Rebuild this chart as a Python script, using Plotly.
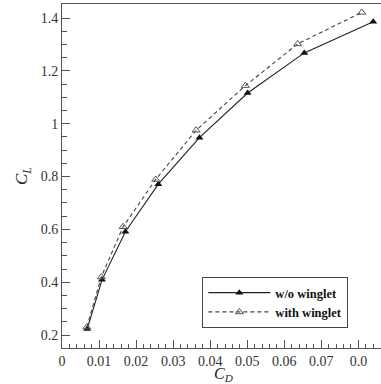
import plotly.graph_objects as go

cd_without = [0.0068, 0.0108, 0.0171, 0.0260, 0.0371, 0.0501, 0.0654, 0.0840]
cl_without = [0.223, 0.409, 0.591, 0.771, 0.947, 1.116, 1.268, 1.386]
cd_with = [0.0067, 0.0106, 0.0165, 0.0253, 0.0362, 0.0495, 0.0636, 0.0809]
cl_with = [0.230, 0.420, 0.610, 0.789, 0.975, 1.144, 1.302, 1.421]
x_ticks = [0, 0.01, 0.02, 0.03, 0.04, 0.05, 0.06, 0.07, 0.08]
x_labels = ["0", "0.01", "0.02", "0.03", "0.04", "0.05", "0.06", "0.07", "0.0"]
y_ticks = [0.2, 0.4, 0.6, 0.8, 1.0, 1.2, 1.4]
y_labels = ["0.2", "0.4", "0.6", "0.8", "1", "1.2", "1.4"]

serif = "Liberation Serif"

fig = go.Figure()
fig.add_trace(go.Scatter(
    x=cd_without, y=cl_without, mode="lines+markers", name="<b>w/o winglet</b>",
    line=dict(color="#222222", width=1.1),
    marker=dict(symbol="triangle-up", size=7, color="#111111"),
))
fig.add_trace(go.Scatter(
    x=cd_with, y=cl_with, mode="lines+markers", name="<b>with winglet</b>",
    line=dict(color="#444444", width=1.1, dash="4px,3px"),
    marker=dict(symbol="triangle-up-open", size=7, color="#555555", line=dict(width=1)),
))

fig.update_layout(
    width=381, height=384,
    margin=dict(l=62, r=0, t=4, b=36),
    paper_bgcolor="white", plot_bgcolor="white",
    font=dict(family=serif, size=14, color="#333333"),
    showlegend=True,
    legend=dict(
        x=0.44, y=0.058, xanchor="left", yanchor="bottom",
        bgcolor="white", bordercolor="#444444", borderwidth=1,
        font=dict(family=serif, size=12.5, color="#111111"),
        itemwidth=62, tracegroupgap=0,
    ),
    xaxis=dict(
        range=[0, 0.0861], tickvals=x_ticks, ticktext=x_labels,
        ticks="inside", ticklen=8, tickwidth=1, tickcolor="#555555",
        showline=True, linecolor="#555555", linewidth=1, mirror=True,
        showgrid=False, zeroline=False, automargin=False,
        minor=dict(dtick=0.002, ticks="inside", ticklen=4, tickcolor="#555555", showgrid=False),
    ),
    yaxis=dict(
        range=[0.151, 1.453], tickvals=y_ticks, ticktext=y_labels,
        ticks="inside", ticklen=8, tickwidth=1, tickcolor="#555555",
        showline=True, linecolor="#555555", linewidth=1, mirror=False,
        showgrid=False, zeroline=False, automargin=False,
        minor=dict(dtick=0.05, ticks="inside", ticklen=5, tickcolor="#555555", showgrid=False),
        title=dict(text="<i>C<sub>L</sub></i>", font=dict(family=serif, size=17, color="#222222"), standoff=8),
    ),
    annotations=[dict(
        text="<i>C<sub>D</sub></i>", xref="paper", yref="paper",
        x=0.505, y=-0.076, xanchor="center", yanchor="middle", showarrow=False,
        font=dict(family=serif, size=16, color="#222222"),
    )],
)

fig.write_html("out.html")
